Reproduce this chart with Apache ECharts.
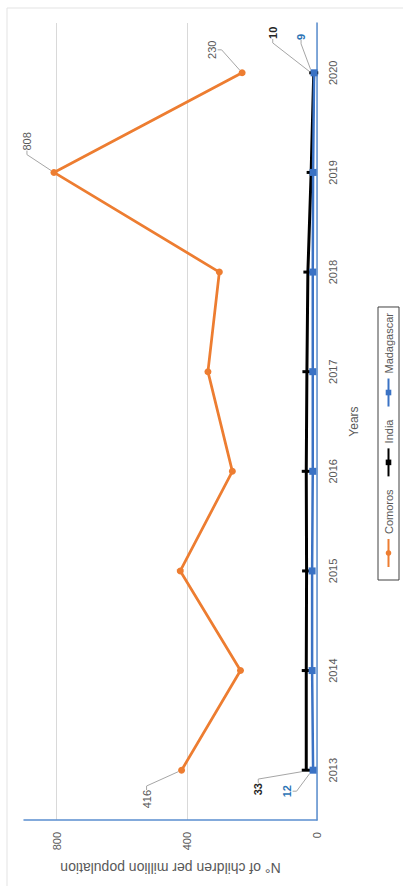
<!DOCTYPE html>
<html>
<head>
<meta charset="utf-8">
<script src="https://cdn.jsdelivr.net/npm/echarts@6/dist/echarts.min.js"></script>
<style>
  html, body { margin: 0; padding: 0; background: #fff; width: 403px; height: 886px; overflow: hidden; }
  /* The chart is laid out landscape and turned a quarter turn anticlockwise onto the portrait page */
  #chart {
    position: absolute; left: 0; top: 0;
    width: 886px; height: 403px;
    transform-origin: 0 0;
    transform: translate(0, 886px) rotate(-90deg);
  }
</style>
</head>
<body>
<div id="chart"></div>
<script>
// Years on the category axis
const years = ['2013', '2014', '2015', '2016', '2017', '2018', '2019', '2020'];

// Children per million population
const comoros    = [416, 235, 420, 260, 335, 300, 808, 230];
const india      = [33, 33, 32, 33, 31, 28, 18, 10];
const madagascar = [12, 15, 15, 13, 13, 13, 12, 9];

// Value axis
const valueMin = 0;
const valueMax = 900;
const valueStep = 400;

// Points whose value is written next to them
const comorosLabelled    = [0, 6, 7];
const indiaLabelled      = [0, 7];
const madagascarLabelled = [0, 7];

// Where each written value sits relative to its point (px)
const labelShift = {
  Comoros:    { 0: [-29, -35], 6: [31, -27], 7: [23, -30] },
  India:      { 0: [-19, -48], 7: [40, -41] },
  Madagascar: { 0: [-21, -26], 7: [36, -13] }
};

const FONT = '"Liberation Sans", Arial, sans-serif';
const AXIS_BLUE = '#5b8fd0';
const TEXT_GREY = '#595959';

function withLabels(values, labelled) {
  return values.map((v, i) => labelled.includes(i) ? { value: v, label: { show: true } } : v);
}

const chart = echarts.init(document.getElementById('chart'), null, { renderer: 'svg' });

chart.setOption({
  backgroundColor: '#ffffff',
  animation: false,
  textStyle: { fontFamily: FONT },
  graphic: [{
    type: 'rect',
    shape: { x: -5, y: 7, width: 883, height: 410 },
    style: { fill: 'none', stroke: '#e3e3e3', lineWidth: 1 },
    silent: true,
    z: -10
  }],
  grid: { left: 66, right: 23, top: 24, bottom: 86 },
  legend: {
    data: ['Comoros', 'India', 'Madagascar'],
    left: 306,
    top: 378,
    orient: 'horizontal',
    itemWidth: 28,
    itemHeight: 7,
    itemGap: 12,
    padding: [5, 6, 5, 12],
    borderColor: '#404040',
    borderWidth: 1,
    textStyle: { color: TEXT_GREY, fontSize: 11, fontFamily: FONT }
  },
  xAxis: {
    type: 'category',
    data: years,
    boundaryGap: true,
    name: 'Years',
    nameLocation: 'middle',
    nameGap: 31,
    nameTextStyle: { color: TEXT_GREY, fontSize: 12, fontFamily: FONT },
    axisLine: { show: true, lineStyle: { color: AXIS_BLUE, width: 1.5 } },
    axisTick: { show: false },
    axisLabel: { color: TEXT_GREY, fontSize: 11, margin: 10, fontFamily: FONT },
    splitLine: { show: false }
  },
  yAxis: {
    type: 'value',
    min: valueMin,
    max: valueMax,
    interval: valueStep,
    name: 'N° of children per million population',
    nameLocation: 'middle',
    nameRotate: 90,
    nameGap: 34,
    nameTextStyle: { color: TEXT_GREY, fontSize: 14, fontFamily: FONT },
    axisLine: { show: true, lineStyle: { color: AXIS_BLUE, width: 1.5 } },
    axisTick: { show: false },
    axisLabel: { color: TEXT_GREY, fontSize: 11, margin: 12, showMaxLabel: false, fontFamily: FONT },
    splitLine: { show: true, showMaxLine: false, lineStyle: { color: '#d9d9d9', width: 1 } }
  },
  series: [
    {
      name: 'Comoros',
      type: 'line',
      data: withLabels(comoros, comorosLabelled),
      symbol: 'circle',
      symbolSize: 7,
      color: '#ed7d31',
      lineStyle: { width: 2.75, color: '#ed7d31' },
      itemStyle: { color: '#ed7d31' },
      label: { show: false, position: 'inside', color: TEXT_GREY, fontSize: 11, fontFamily: FONT },
      labelLine: { show: true, length2: 4, lineStyle: { color: '#a6a6a6', width: 1 } },
      emphasis: { disabled: true },
      z: 3
    },
    {
      name: 'India',
      type: 'line',
      data: withLabels(india, indiaLabelled),
      symbol: 'rect',
      symbolSize: [3, 9],
      color: '#000000',
      lineStyle: { width: 3, color: '#000000' },
      itemStyle: { color: '#000000' },
      label: { show: false, position: 'inside', color: '#262626', fontWeight: 'bold', fontSize: 11, fontFamily: FONT },
      labelLine: { show: true, length2: 4, lineStyle: { color: '#a6a6a6', width: 1 } },
      emphasis: { disabled: true },
      z: 4
    },
    {
      name: 'Madagascar',
      type: 'line',
      data: withLabels(madagascar, madagascarLabelled),
      symbol: 'rect',
      symbolSize: 7,
      color: '#3a72c4',
      lineStyle: { width: 2.5, color: '#3a72c4' },
      itemStyle: { color: '#3a72c4' },
      label: { show: false, position: 'inside', color: '#2e75b6', fontWeight: 'bold', fontSize: 11, fontFamily: FONT },
      labelLine: { show: true, length2: 4, lineStyle: { color: '#a6a6a6', width: 1 } },
      emphasis: { disabled: true },
      z: 5
    }
  ],
  labelLayout: function (params) {
    const name = ['Comoros', 'India', 'Madagascar'][params.seriesIndex];
    const shift = labelShift[name] && labelShift[name][params.dataIndex];
    if (!shift) return {};
    return { dx: shift[0], dy: shift[1] };
  }
});
</script>
</body>
</html>
